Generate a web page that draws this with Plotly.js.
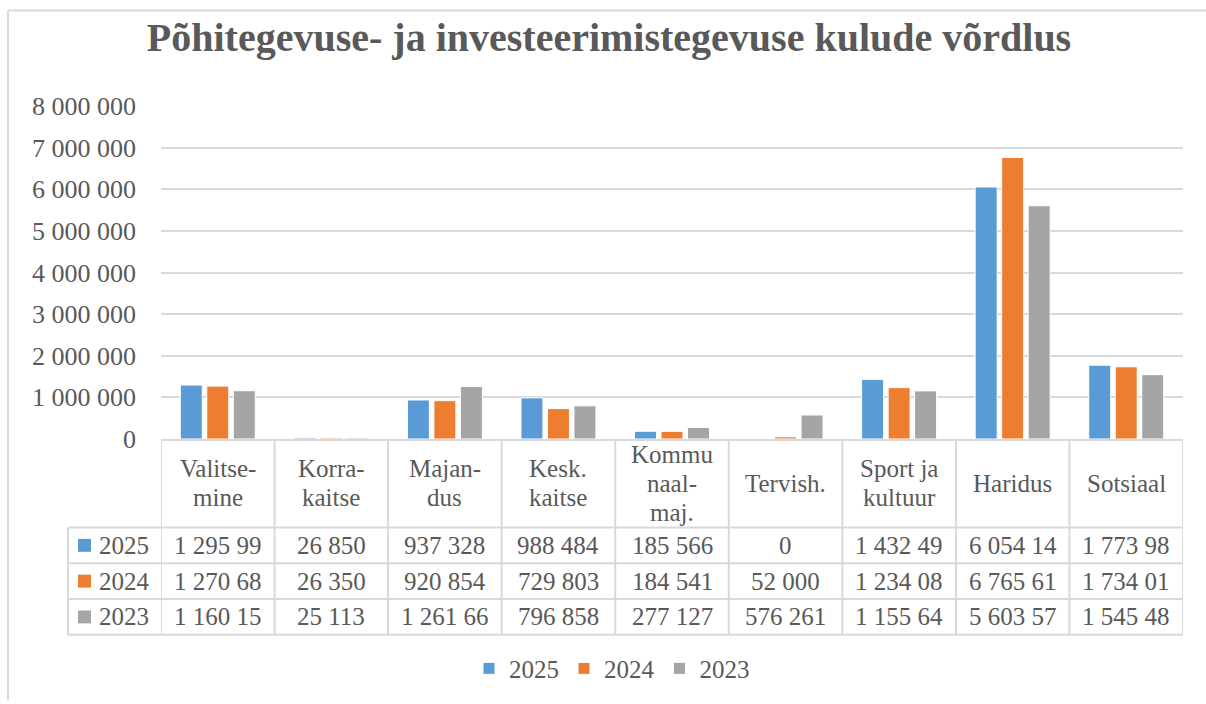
<!DOCTYPE html>
<html>
<head>
<meta charset="utf-8">
<script src="https://cdn.plot.ly/plotly-3.0.1.min.js"></script>
<style>html,body{margin:0;padding:0;background:#fff;}</style>
</head>
<body>
<div id="chart" style="width:1206px;height:704px;"></div>
<script>
// ---- data ----
const categories = ["Valitsemine", "Korrakaitse", "Majandus", "Kesk. kaitse", "Kommunaalmaj.", "Tervish.", "Sport ja kultuur", "Haridus", "Sotsiaal"];
const categoryLabels = ["Valitse-<br>mine", "Korra-<br>kaitse", "Majan-<br>dus", "Kesk.<br>kaitse", "Kommu<br>naal-<br>maj.", "Tervish.", "Sport ja<br>kultuur", "Haridus", "Sotsiaal"];
const seriesNames = ["2025", "2024", "2023"];
const values2025 = [1295990, 26850, 937328, 988484, 185566, 0, 1432490, 6054140, 1773980];
const values2024 = [1270680, 26350, 920854, 729803, 184541, 52000, 1234080, 6765610, 1734010];
const values2023 = [1160150, 25113, 1261660, 796858, 277127, 576261, 1155640, 5603570, 1545480];
const yTickValues = [0, 1000000, 2000000, 3000000, 4000000, 5000000, 6000000, 7000000, 8000000];

// ---- style ----
const colors = ["#5B9BD5", "#ED7D31", "#A5A5A5"];
const textColor = "#595959";
const lineColor = "#D9D9D9";
const FONT = "'Liberation Serif', 'Times New Roman', serif";
const seriesValues = [values2025, values2024, values2023];

// pixel geometry helpers (plot area)
const L = 161, R = 1183, T = 106, B = 441;
const px2x = X => (X - L) / (R - L);
const px2y = Y => (B - Y) / (B - T);

function fmt(v) {
  const s = String(Math.round(v)).replace(/\B(?=(\d{3})+(?!\d))/g, " ");
  return s.length > 8 ? s.slice(0, 8) : s; // cell clipping as in the original table
}

const traces = seriesNames.map((name, i) => ({
  type: "bar",
  name: name,
  x: categories,
  y: seriesValues[i],
  marker: { color: colors[i], line: { width: 1, color: "#ffffff" } },
  hoverinfo: "x+y+name"
}));

const shapes = [];
const annotations = [];

// outer chart border (top + left)
shapes.push({ type: "line", xref: "paper", yref: "paper", x0: px2x(8), x1: px2x(1206), y0: px2y(10), y1: px2y(10), line: { color: lineColor, width: 2 } });
shapes.push({ type: "line", xref: "paper", yref: "paper", x0: px2x(8), x1: px2x(8), y0: px2y(10), y1: px2y(704), line: { color: lineColor, width: 2 } });

// table lines
const rowLines = [530, 566, 602, 638];
rowLines.forEach(Y => shapes.push({ type: "line", xref: "paper", yref: "paper", x0: px2x(68), x1: px2x(R), y0: px2y(Y), y1: px2y(Y), line: { color: lineColor, width: 2 } }));
shapes.push({ type: "line", xref: "paper", yref: "paper", x0: px2x(68), x1: px2x(68), y0: px2y(530), y1: px2y(638), line: { color: lineColor, width: 2 } });
for (let i = 0; i <= categories.length; i++) {
  shapes.push({ type: "line", xref: "x", yref: "paper", x0: i - 0.5, x1: i - 0.5, y0: px2y(441), y1: px2y(638), line: { color: lineColor, width: 2 } });
}

// header labels
const headerCenter = 485.5, lineStep = 29;
categoryLabels.forEach((lab, i) => {
  const parts = lab.split("<br>");
  parts.forEach((p, k) => {
    const Y = headerCenter + (k - (parts.length - 1) / 2) * lineStep;
    annotations.push({ xref: "x", yref: "paper", x: i, y: px2y(Y), text: p, showarrow: false, xanchor: "center", yanchor: "middle", font: { family: FONT, size: 25, color: textColor } });
  });
});

// data rows
const rowCenters = [548, 584, 620];
seriesNames.forEach((name, r) => {
  const Y = rowCenters[r];
  shapes.push({ type: "rect", xref: "paper", yref: "paper", x0: px2x(78), x1: px2x(91), y0: px2y(Y - 6.5), y1: px2y(Y + 6.5), fillcolor: colors[r], line: { width: 0 } });
  annotations.push({ xref: "paper", yref: "paper", x: px2x(97), y: px2y(Y), text: name, showarrow: false, xanchor: "left", yanchor: "middle", font: { family: FONT, size: 25, color: textColor } });
  seriesValues[r].forEach((v, i) => {
    annotations.push({ xref: "x", yref: "paper", x: i, y: px2y(Y), text: fmt(v), showarrow: false, xanchor: "center", yanchor: "middle", font: { family: FONT, size: 25, color: textColor } });
  });
});

const layout = {
  width: 1206, height: 704,
  margin: { l: L, r: 1206 - R, t: T, b: 704 - B, pad: 0 },
  paper_bgcolor: "#ffffff", plot_bgcolor: "#ffffff",
  separators: ", ",
  title: {
    text: "<b>Põhitegevuse- ja investeerimistegevuse kulude võrdlus</b>",
    font: { family: FONT, size: 40, color: textColor },
    xref: "container", yref: "container", x: 609 / 1206, xanchor: "center", y: 1 - 37 / 704, yanchor: "middle"
  },
  barmode: "group", bargap: 0.3, bargroupgap: 0.17,
  xaxis: { type: "category", range: [-0.5, categories.length - 0.5], showticklabels: false, ticks: "", showgrid: false, zeroline: false, showline: true, linecolor: lineColor, linewidth: 2, fixedrange: true },
  yaxis: { range: [0, 8000000], tickvals: yTickValues, tickformat: ",d", showgrid: true, gridcolor: lineColor, gridwidth: 2, zeroline: false, showline: false, ticks: "", ticklabelstandoff: 24, tickfont: { family: FONT, size: 26, color: textColor }, fixedrange: true },
  showlegend: true,
  legend: { orientation: "h", xref: "paper", yref: "paper", x: px2x(612), xanchor: "center", y: px2y(672), yanchor: "middle", font: { family: FONT, size: 25, color: textColor }, bgcolor: "rgba(0,0,0,0)", itemwidth: 30, tracegroupgap: 0 },
  shapes: shapes,
  annotations: annotations
};

Plotly.newPlot("chart", traces, layout, { displayModeBar: false });
</script>
</body>
</html>
